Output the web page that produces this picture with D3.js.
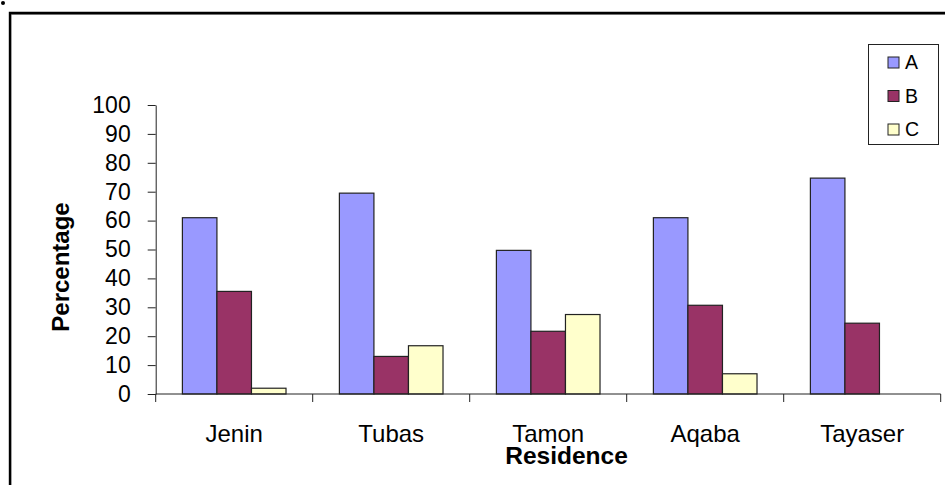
<!DOCTYPE html>
<html>
<head>
<meta charset="utf-8">
<script src="https://d3js.org/d3.v7.min.js"></script>
<style>
  html, body { margin: 0; padding: 0; background: #fff; }
  svg { display: block; font-family: "Liberation Sans", Arial, sans-serif; }
</style>
</head>
<body>
<svg id="chart" width="945" height="485"></svg>
<script>
// Residence categories and percentage per group
const categories = ["Jenin", "Tubas", "Tamon", "Aqaba", "Tayaser"];
const seriesNames = ["A", "B", "C"];
const valuesA = [61, 69.5, 49.7, 61, 74.7];
const valuesB = [35.5, 13, 21.7, 30.7, 24.5];
const valuesC = [2, 16.7, 27.5, 7, 0];
const yTicks = [0, 10, 20, 30, 40, 50, 60, 70, 80, 90, 100];
const colors = ["#9999FF", "#993366", "#FFFFCC"];

const series = [valuesA, valuesB, valuesC];

const svg = d3.select("#chart");

// Frame around the figure
svg.append("circle").attr("cx", 3).attr("cy", 3).attr("r", 2).attr("fill", "#000");
svg.append("path")
  .attr("d", "M11,485 V14.5 H945")
  .attr("fill", "none").attr("stroke", "#999").attr("stroke-width", 1);
svg.append("path")
  .attr("d", "M10,485 V13 H945")
  .attr("fill", "none").attr("stroke", "#000").attr("stroke-width", 2.4);

const plotLeft = 155.7, plotRight = 940.7, plotTop = 105, plotBottom = 394;

const x0 = d3.scaleBand()
  .domain(categories)
  .range([plotLeft, plotRight])
  .paddingInner(0.34)
  .paddingOuter(0.17);

const x1 = d3.scaleBand()
  .domain(seriesNames)
  .range([0, x0.bandwidth()]);

const y = d3.scaleLinear().domain([0, 100]).range([plotBottom, plotTop]);

// Bars
const groups = svg.append("g").selectAll("g")
  .data(categories)
  .join("g")
  .attr("transform", d => `translate(${x0(d)},0)`);

groups.selectAll("rect")
  .data((d, i) => seriesNames.map((s, j) => ({ s, j, v: series[j][i] })).filter(e => e.v > 0))
  .join("rect")
  .attr("x", d => x1(d.s))
  .attr("y", d => y(d.v))
  .attr("width", x1.bandwidth())
  .attr("height", d => y(0) - y(d.v))
  .attr("fill", d => colors[d.j])
  .attr("stroke", "#222")
  .attr("stroke-width", 1.2);

// Y axis
const yAxis = d3.axisLeft(y).tickValues(yTicks).tickSize(8).tickPadding(17).tickSizeOuter(0);
const gy = svg.append("g").attr("transform", `translate(${plotLeft},0)`).call(yAxis);
gy.selectAll("text").attr("font-size", 23).attr("fill", "#000").attr("font-family", "Liberation Sans, Arial, sans-serif");
gy.selectAll("line, path").attr("stroke", "#222");

// X axis: ticks at category boundaries
const xa = svg.append("g");
xa.append("line")
  .attr("x1", plotLeft).attr("x2", plotRight)
  .attr("y1", plotBottom).attr("y2", plotBottom)
  .attr("stroke", "#222");
const step = x0.step();
const boundaries = categories.map(c => x0(c) - x0.paddingOuter() * step).concat([plotRight]);
xa.selectAll("line.tick")
  .data(boundaries)
  .join("line")
  .attr("class", "tick")
  .attr("x1", d => d).attr("x2", d => d)
  .attr("y1", plotBottom).attr("y2", plotBottom + 8)
  .attr("stroke", "#222");
xa.selectAll("text")
  .data(categories)
  .join("text")
  .attr("x", d => x0(d) + x0.bandwidth() / 2)
  .attr("y", 442)
  .attr("text-anchor", "middle")
  .attr("font-size", 24)
  .attr("fill", "#000")
  .text(d => d);

// Axis titles
svg.append("text")
  .attr("transform", "translate(69,267) rotate(-90)")
  .attr("text-anchor", "middle")
  .attr("font-size", 24)
  .attr("font-weight", "bold")
  .text("Percentage");

svg.append("text")
  .attr("x", 566.5)
  .attr("y", 464)
  .attr("text-anchor", "middle")
  .attr("font-size", 24.5)
  .attr("font-weight", "bold")
  .text("Residence");

// Legend
const lg = svg.append("g");
lg.append("rect")
  .attr("x", 868.5).attr("y", 44.5)
  .attr("width", 70).attr("height", 100)
  .attr("fill", "#fff").attr("stroke", "#222").attr("stroke-width", 1);
const items = lg.selectAll("g.item")
  .data(seriesNames)
  .join("g")
  .attr("class", "item")
  .attr("transform", (d, i) => `translate(888,${57 + i * 33.5})`);
items.append("rect")
  .attr("width", 11).attr("height", 11)
  .attr("fill", (d, i) => colors[i])
  .attr("stroke", "#222").attr("stroke-width", 1);
items.append("text")
  .attr("x", 17).attr("y", 12)
  .attr("font-size", 19.5)
  .attr("fill", "#000")
  .text(d => d);
</script>
</body>
</html>
